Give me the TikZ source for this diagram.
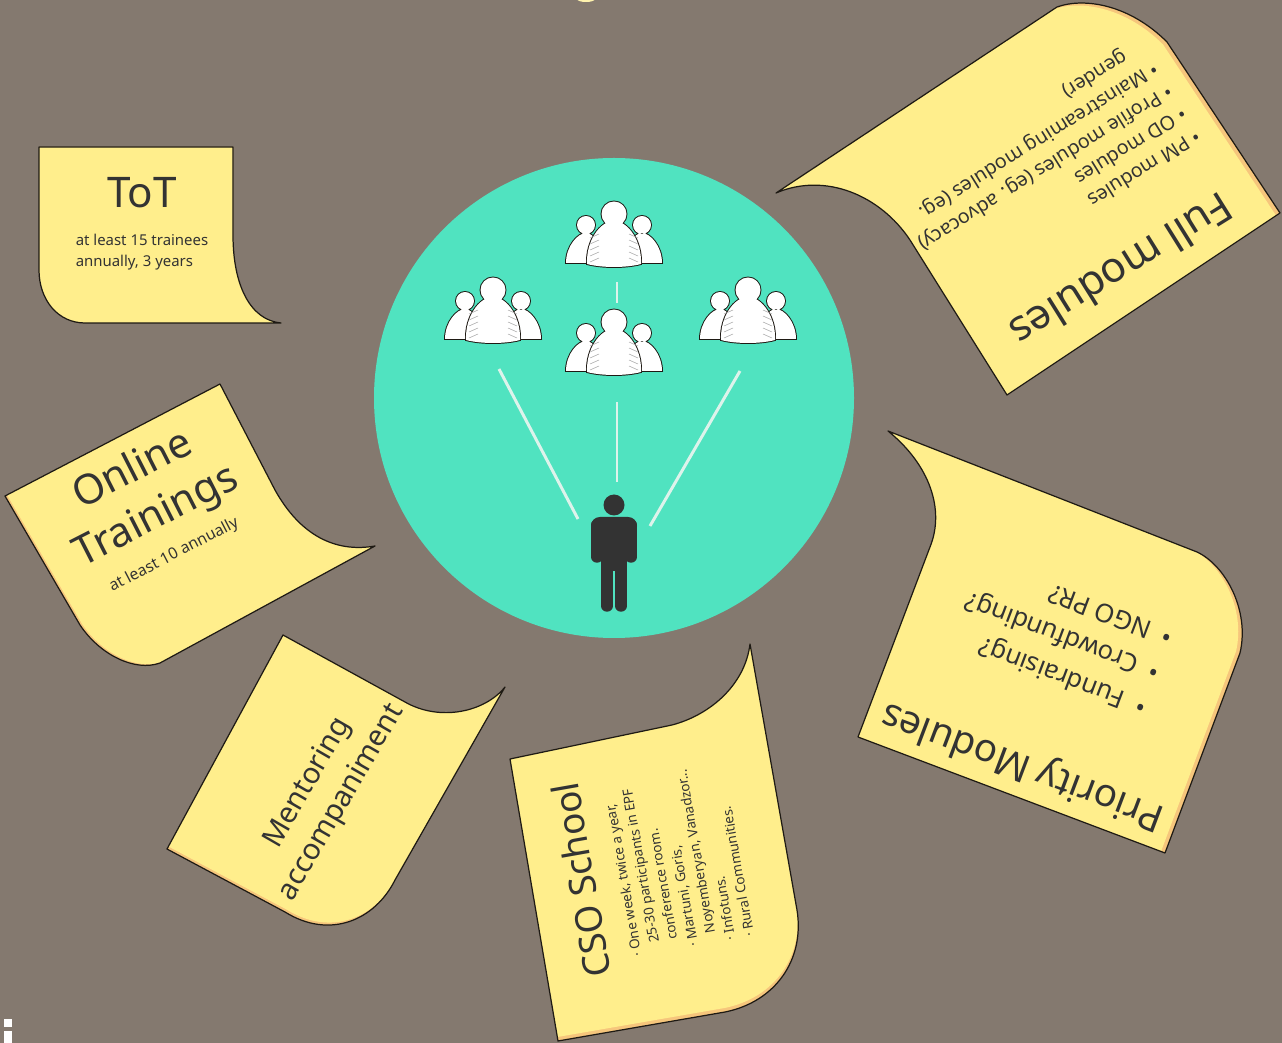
\documentclass[tikz,border=0pt]{standalone}
\usepackage{fontspec}
\setmainfont{Noto Sans}
\definecolor{wall}{HTML}{84796F}
\definecolor{teal}{HTML}{50E3C0}
\definecolor{paper}{HTML}{FFEE8C}
\definecolor{paperedge}{HTML}{F6C67C}
\definecolor{ink}{HTML}{333333}
\definecolor{rim}{HTML}{1E1A14}
\definecolor{ray}{HTML}{DDF3EB}

\tikzset{
	title/.style={text=ink,align=center,inner sep=0pt,font=\fontsize{24}{29.5}\selectfont},
	body/.style={text=ink,align=left,inner sep=0pt,font=\fontsize{8.5}{12}\selectfont},
	ray/.style={draw=ray,line width=1.7pt},
	crowd/.pic={
		\foreach \s in {-1,1} {
			\draw[rim,fill=rim,line width=1.1pt] (\s*28,-16) circle[radius=9] (\s*48,22) .. controls (\s*48,5) and (\s*36,-8) .. (\s*28,-8) .. controls (\s*20,-8) and (\s*12,5) .. (\s*12,22) -- cycle;
			\fill[white] (\s*28,-16) circle[radius=9] (\s*48,22) .. controls (\s*48,5) and (\s*36,-8) .. (\s*28,-8) .. controls (\s*20,-8) and (\s*12,5) .. (\s*12,22) -- cycle;
		}
		\draw[rim,fill=rim,line width=1.1pt] (0,-27) circle[radius=12.5] (-27,23) .. controls (-28,0) and (-14,-20) .. (0,-20) .. controls (14,-20) and (28,0) .. (27,23) .. controls (12,27) and (-12,27) .. (-27,23) -- cycle;
		\fill[white] (0,-27) circle[radius=12.5] (-27,23) .. controls (-28,0) and (-14,-20) .. (0,-20) .. controls (14,-20) and (28,0) .. (27,23) .. controls (12,27) and (-12,27) .. (-27,23) -- cycle;
		\foreach \y in {-4,2,8,14,20} {
			\draw[gray!70,line width=0.3pt] (-24,\y+1) -- (-15,\y-3);
			\draw[gray!70,line width=0.3pt] (24,\y+1) -- (15,\y-3);
		}
	},
	figure/.pic={
		\fill[ink] (0,0) circle[radius=10.5];
		\fill[ink,rounded corners=5pt] (-23,12) rectangle (23,30);
		\fill[ink] (-12,16) rectangle (12,66);
		\draw[ink,line width=0.23cm,line cap=round] (-17,20) -- (-17,52);
		\draw[ink,line width=0.23cm,line cap=round] (17,20) -- (17,52);
		\draw[ink,line width=0.23cm,line cap=round] (-7,55) -- (-7,101);
		\draw[ink,line width=0.23cm,line cap=round] (7,55) -- (7,101);
	}
}

\newcommand{\stickynote}[2]{
	\fill[paperedge] #2;
	\begin{scope}
		\clip #2;
		\fill[paper,shift={#1}] #2;
	\end{scope}
	\draw[rim,line width=0.7pt,line join=round] #2;
}

\begin{document}
\begin{tikzpicture}[x=0.02cm,y=-0.02cm]

	\useasboundingbox (0,0) rectangle (1282,1043);
	\clip (0,0) rectangle (1282,1043);
	\fill[wall] (0,0) rectangle (1282,1043);

	\fill[paper!70!white] (586,-1) ellipse (9 and 3);
	\fill[white] (4,1019) rectangle (12,1027);
	\fill[white] (4,1031) rectangle (12,1043);

	\fill[teal] (614,398) circle[radius=240];

	\pic at (614,241) {crowd};
	\pic at (614,349) {crowd};
	\pic at (493,317) {crowd};
	\pic at (748,317) {crowd};
	\pic at (614,505) {figure};

	\coordinate (LeftTop) at (499,369);
	\coordinate (LeftEnd) at (578,519);
	\coordinate (MidTop) at (617,402);
	\coordinate (MidEnd) at (617,482);
	\coordinate (RightTop) at (740,371);
	\coordinate (RightEnd) at (650,526);
	\coordinate (UpTop) at (617,282);
	\coordinate (UpEnd) at (617,303);
	\draw[ray] (LeftTop) to (LeftEnd);
	\draw[ray] (MidTop) to (MidEnd);
	\draw[ray] (RightTop) to (RightEnd);
	\draw[ray] (UpTop) to (UpEnd);

	\stickynote{(0,0)}{(39,147) -- (233,147) -- (233,235) .. controls (233,285) and (250,320) .. (281,323) -- (85,323) .. controls (58,323) and (39,300) .. (39,270) -- cycle}
	\stickynote{(2,-1.2)}{(5,496) -- (220,384) -- (275,490) .. controls (300,535) and (335,553) .. (375,546) -- (160,663) .. controls (135,672) and (100,655) .. (80,625) -- cycle}
	\stickynote{(1.5,-2.5)}{(283,635) -- (405,702) .. controls (440,722) and (485,712) .. (505,687) -- (395,880) .. controls (375,920) and (330,940) .. (285,912) -- (167,849) -- cycle}
	\stickynote{(-0.5,-4)}{(510,759) -- (672,725) .. controls (710,715) and (745,685) .. (750,644) -- (797,910) .. controls (805,960) and (775,1002) .. (725,1012) -- (558,1041) -- cycle}
	\stickynote{(-4,-1.5)}{(888,431) -- (1197,552) .. controls (1225,565) and (1250,610) .. (1240,653) -- (1165,853) -- (858,737) -- (930,547) .. controls (945,510) and (930,465) .. (888,431) -- cycle}
	\stickynote{(-4,2.5)}{(776,193) -- (1057,7) .. controls (1085,-3) and (1130,5) .. (1167,42) -- (1280,213) -- (1007,395) -- (910,240) .. controls (880,195) and (825,172) .. (776,193) -- cycle}

	\node[title] (ToT) at (142,193) {ToT};
	\node[body] (ToTText) at (142,252.5) {at least 15 trainees\\annually, 3 years};

	\node[title,rotate=27,font=\fontsize{23.5}{29.5}\selectfont] (Online) at (145,494) {Online\\Trainings};
	\node[body,rotate=27.5,font=\fontsize{9}{12}\selectfont] (OnlineText) at (174,555) {at least 10 annually};

	\node[title,rotate=60,font=\fontsize{16.6}{22}\selectfont] (Mentoring) at (325,793) {Mentoring\\accompaniment};

	\node[title,rotate=100,font=\fontsize{21}{26}\selectfont] (School) at (581,880) {CSO School};
	\node[body,rotate=100,font=\fontsize{7.7}{10.8}\selectfont] (SchoolText) at (678,860) {· One week, twice a year,\\\hspace*{6pt}25-30 participants in EPF\\\hspace*{6pt}conference room.\\· Martuni, Goris,\\\hspace*{6pt}Noyemberyan, Vanadzor...\\· Infotuns.\\· Rural Communities.};

	\node[title,rotate=159.3,font=\fontsize{22}{27}\selectfont] (Priority) at (1023,765) {Priority Modules};
	\node[body,rotate=159.3,font=\fontsize{14.6}{21.3}\selectfont] (PriorityText) at (1062,638) {•\ \ Fundraising?\\•\ \ Crowdfunding?\\•\ \ NGO PR?};

	\node[title,rotate=212] (Full) at (1122,271) {Full modules};
	\node[body,rotate=212,font=\fontsize{11.2}{15}\selectfont] (FullText) at (1045,167) {•\ PM modules\\•\ OD modules\\•\ Profile modules (eg. advocacy)\\•\ Mainstreaming modules (eg.\\\hspace*{1em}gender)};

\end{tikzpicture}
\end{document}
